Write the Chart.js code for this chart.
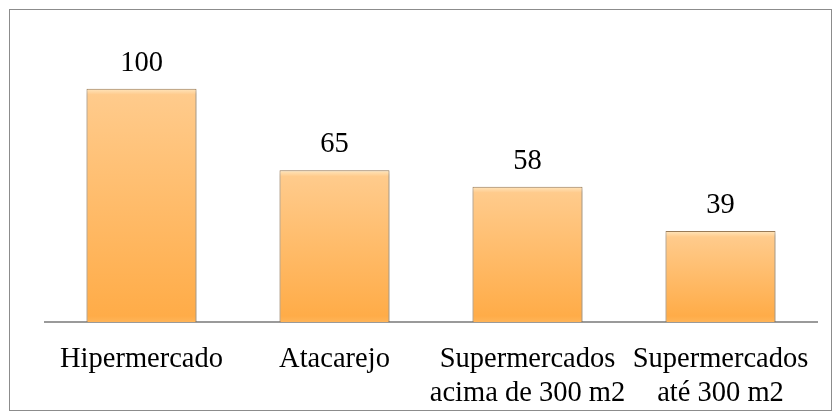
<!DOCTYPE html>
<html><head><meta charset="utf-8">
<script src="https://cdn.jsdelivr.net/npm/chart.js@4"></script>
<style>
html,body{margin:0;padding:0;background:#fff;}
#wrap{position:absolute;left:0;top:0;width:840px;height:420px;}
#frame{position:absolute;left:9px;top:9px;width:821px;height:400px;border:1px solid #8c8c8c;pointer-events:none;}
</style></head><body>
<div id="wrap"><canvas id="c" width="840" height="420"></canvas><div id="frame"></div></div>
<script>
const categories = [["Hipermercado"], ["Atacarejo"], ["Supermercados", "acima de 300 m2"], ["Supermercados", "até 300 m2"]];
const values = [100, 65, 58, 39];
const yMin = 0;
const yMax = 120;

const FONT = "'Liberation Serif', 'Times New Roman', serif";

const valueLabels = {
  id: 'valueLabels',
  afterDatasetsDraw(chart) {
    const ctx = chart.ctx;
    const meta = chart.getDatasetMeta(0);
    ctx.save();
    ctx.fillStyle = '#000';
    ctx.font = "28.5px " + FONT;
    ctx.textAlign = 'center';
    ctx.textBaseline = 'alphabetic';
    meta.data.forEach((el, i) => {
      ctx.fillText(String(values[i]), el.x, el.y - 18);
    });
    ctx.restore();
  }
};

const barShadow = {
  id: 'barShadow',
  beforeDatasetDraw(chart) {
    const ctx = chart.ctx;
    ctx.save();
    ctx.shadowColor = 'rgba(0,0,0,0.25)';
    ctx.shadowBlur = 4;
    ctx.shadowOffsetX = 1;
    ctx.shadowOffsetY = 2;
  },
  afterDatasetDraw(chart) {
    chart.ctx.restore();
  }
};

function barGradient(context) {
  const chart = context.chart;
  const y = chart.scales.y;
  if (!y || !chart.chartArea) return '#FFB860';
  const top = y.getPixelForValue(values[context.dataIndex]);
  const base = y.getPixelForValue(0);
  if (!isFinite(top) || !isFinite(base) || base <= top) return '#FFB860';
  const h = base - top;
  const g = chart.ctx.createLinearGradient(0, top, 0, base);
  g.addColorStop(0, '#FFE6BE');
  g.addColorStop(Math.min(0.3, 6 / h), '#FFCB8C');
  g.addColorStop(Math.max(0.7, 1 - 6 / h), '#FFAC48');
  g.addColorStop(1, '#FFB458');
  return g;
}

new Chart(document.getElementById('c'), {
  type: 'bar',
  data: {
    labels: categories,
    datasets: [{
      data: values,
      backgroundColor: barGradient,
      borderColor: '#9E7F5A',
      borderWidth: 1,
      categoryPercentage: 1,
      barPercentage: 0.57
    }]
  },
  options: {
    responsive: false,
    animation: false,
    devicePixelRatio: 1,
    layout: { padding: { left: 45, right: 23, top: 42, bottom: 0 } },
    plugins: { legend: { display: false }, tooltip: { enabled: false } },
    scales: {
      y: { display: false, min: yMin, max: yMax },
      x: {
        grid: { display: false },
        border: { display: true, color: '#9a9a9a', width: 2 },
        ticks: { color: '#000', font: { family: FONT, size: 28.5, lineHeight: 1.2 }, padding: 12, maxRotation: 0, autoSkip: false },
        afterFit(scale) { scale.height = 98; }
      }
    }
  },
  plugins: [barShadow, valueLabels]
});
</script>
</body></html>
